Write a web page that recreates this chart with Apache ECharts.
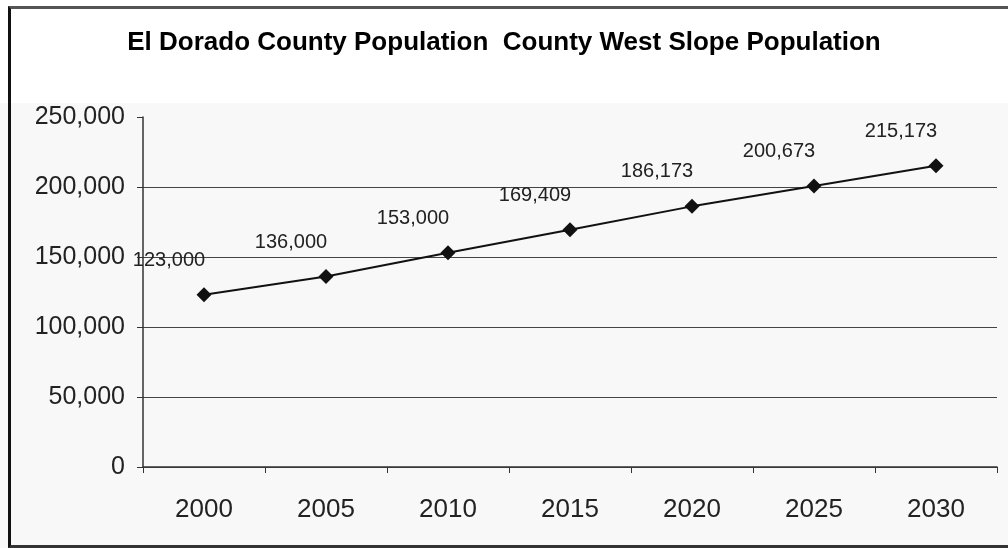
<!DOCTYPE html>
<html>
<head>
<meta charset="utf-8">
<title>El Dorado County Population</title>
<script src="https://cdn.jsdelivr.net/npm/echarts@6/dist/echarts.min.js"></script>
<style>
  html, body { margin: 0; padding: 0; background: #fff; }
  .frame {
    position: relative;
    width: 1008px;
    height: 548px;
    overflow: hidden;
    background: linear-gradient(to bottom, #fff 0, #fff 103px, #f8f8f8 103px);
  }
  .frame-border {
    position: absolute;
    left: 8px;
    top: 6px;
    width: 1010px;
    height: 536px;
    border-top: 3px solid #555;
    border-left: 3px solid #111;
    border-bottom: 3px solid #333;
    pointer-events: none;
  }
  #chart { position: absolute; left: 0; top: 0; width: 1008px; height: 548px; }
</style>
</head>
<body>
<div class="frame">
  <div id="chart"></div>
  <div class="frame-border"></div>
</div>
<script>
// data
const years = ['2000', '2005', '2010', '2015', '2020', '2025', '2030']
const population = [123000, 136000, 153000, 169409, 186173, 200673, 215173]
const yTicks = { min: 0, max: 250000, interval: 50000 }

const titleText = 'El Dorado County Population  County West Slope Population'
const fontFamily = '"Liberation Sans", Arial, sans-serif'
const ink = '#111'

const chart = echarts.init(document.getElementById('chart'))

chart.setOption({
  backgroundColor: 'transparent',
  animation: false,
  title: {
    text: titleText,
    left: 'center',
    top: 25,
    textStyle: { fontFamily, fontSize: 26, fontWeight: 'bold', color: '#000' },
  },
  grid: { left: 143, right: 11, top: 117, bottom: 81 },
  xAxis: {
    type: 'category',
    data: years,
    boundaryGap: true,
    axisLine: { show: true, lineStyle: { color: '#333', width: 1.5 } },
    axisTick: { show: true, length: 6, lineStyle: { color: '#333' } },
    axisLabel: { margin: 30, fontFamily, fontSize: 26, color: '#222' },
  },
  yAxis: {
    type: 'value',
    min: yTicks.min,
    max: yTicks.max,
    interval: yTicks.interval,
    axisLine: { show: true, lineStyle: { color: '#333', width: 1.5 } },
    axisTick: { show: true, length: 6, lineStyle: { color: '#333' } },
    axisLabel: {
      margin: 18,
      fontFamily,
      fontSize: 25,
      color: '#222',
      formatter: v => v.toLocaleString('en-US'),
    },
    splitLine: {
      show: true,
      showMaxLine: false,
      lineStyle: { color: '#444', width: 1.2 },
    },
  },
  series: [
    {
      type: 'line',
      data: population,
      symbol: 'diamond',
      symbolSize: 15,
      lineStyle: { color: ink, width: 2 },
      itemStyle: { color: ink },
      label: {
        show: true,
        position: 'top',
        distance: 5,
        offset: [-35, -12],
        fontFamily,
        fontSize: 20,
        color: '#222',
        formatter: p => p.value.toLocaleString('en-US'),
      },
    },
  ],
})
</script>
</body>
</html>
